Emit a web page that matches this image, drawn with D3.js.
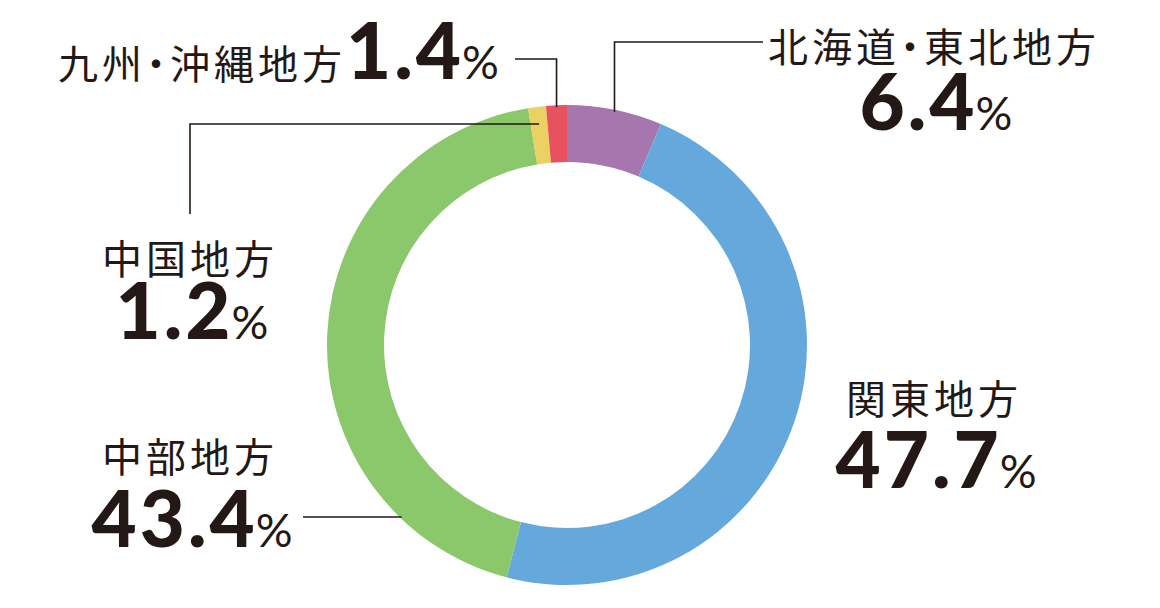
<!DOCTYPE html>
<html lang="ja">
<head>
<meta charset="utf-8">
<script src="https://cdn.jsdelivr.net/npm/d3@7"></script>
<style>
    html, body { margin: 0; padding: 0; background: #fff; }
    svg { display: block; }
    .name { font-family: "Noto Sans CJK JP", "Noto Sans", sans-serif; font-size: 40px; font-weight: 400; fill: #231815; letter-spacing: 4px; font-feature-settings: "palt"; }
    .num { font-family: Lato, "Noto Sans", sans-serif; font-size: 78px; font-weight: 900; fill: #231815; letter-spacing: 3px; font-feature-settings: normal; }
    .pct { font-family: Lato, "Noto Sans", sans-serif; font-size: 46px; font-weight: 400; fill: #231815; letter-spacing: 0; }
    .leader { fill: none; stroke: #231815; stroke-width: 1.6; }
</style>
</head>
<body>
<svg id="chart" width="1160" height="608"></svg>
<script>
// regional share (%), clockwise from 12 o'clock
const regions = ['北海道・東北地方', '関東地方', '中部地方', '中国地方', '九州・沖縄地方'];
const shares = [6.4, 47.7, 43.4, 1.2, 1.4];
const colors = ['#a676ae', '#65a9dc', '#8bc76b', '#ebd063', '#e8515e'];

const width = 1160, height = 608;
const cx = 567, cy = 345;
const outerR = 240, innerR = 183;

const svg = d3.select('#chart');
const g = svg.append('g').attr('transform', `translate(${cx},${cy})`);

const pie = d3.pie().sort(null).value(d => d.value);
const arc = d3.arc().innerRadius(innerR).outerRadius(outerR);

const slices = pie(regions.map((name, i) => ({ name, value: shares[i], color: colors[i] })));

g.selectAll('path.slice')
    .data(slices)
    .enter().append('path')
    .attr('class', 'slice')
    .attr('d', arc)
    .attr('fill', d => d.data.color);

// helpers
const midAngle = d => (d.startAngle + d.endAngle) / 2;
const onRing = (a, r) => [cx + r * Math.sin(a), cy - r * Math.cos(a)];

// label layout: anchor, x, name baseline, number baseline
const layout = [
    { anchor: 'middle', x: 934, nameY: 62, numY: 130 },
    { anchor: 'middle', x: 934, nameY: 414, numY: 488 },
    { anchor: 'middle', x: 190, nameY: 472, numY: 547 },
    { anchor: 'middle', x: 190, nameY: 274, numY: 339 },
    { anchor: 'start', x: 58, nameY: 79, numY: 79, inline: true }
];

function writeValue(t, value) {
    t.append('tspan').attr('class', 'num').text(value.toFixed(1));
    t.append('tspan').attr('class', 'pct').attr('dx', -2).text('%');
}

slices.forEach((d, i) => {
    const L = layout[i];
    if (L.inline) {
        // name and number on one line
        const t = svg.append('text')
            .attr('x', L.x)
            .attr('y', L.nameY)
            .attr('text-anchor', L.anchor);
        t.append('tspan').attr('class', 'name').text(d.data.name);
        writeValue(t, d.data.value);
    } else {
        svg.append('text')
            .attr('class', 'name')
            .attr('x', L.x)
            .attr('y', L.nameY)
            .attr('text-anchor', L.anchor)
            .text(d.data.name);
        const t = svg.append('text')
            .attr('x', L.x + 2)
            .attr('y', L.numY)
            .attr('text-anchor', L.anchor);
        writeValue(t, d.data.value);
    }
});

// leader lines
const line = d3.line();
const byName = name => slices.find(s => s.data.name === name);

// 北海道・東北: up from the slice, then right to the label
{
    const p = onRing(midAngle(byName('北海道・東北地方')), outerR - 2);
    svg.append('path').attr('class', 'leader')
        .attr('d', line([[p[0], p[1]], [p[0], 42], [763, 42]]));
}
// 九州・沖縄: from label end, right then down to the slice
{
    const p = onRing(midAngle(byName('九州・沖縄地方')), outerR - 2);
    svg.append('path').attr('class', 'leader')
        .attr('d', line([[515, 59], [p[0], 59], [p[0], p[1]]]));
}
// 中国: from inside the slice, left then down to the label
{
    const a = midAngle(byName('中国地方'));
    const y = 124;
    const x = cx + (cy - y) * Math.tan(a);
    svg.append('path').attr('class', 'leader')
        .attr('d', line([[x, y], [190, y], [190, 214]]));
}
// 中部: horizontal from the number to the outer ring
{
    const y = 517;
    const x = cx - Math.sqrt(outerR * outerR - (y - cy) * (y - cy));
    svg.append('path').attr('class', 'leader')
        .attr('d', line([[303, y], [x + 2, y]]));
}
</script>
</body>
</html>
